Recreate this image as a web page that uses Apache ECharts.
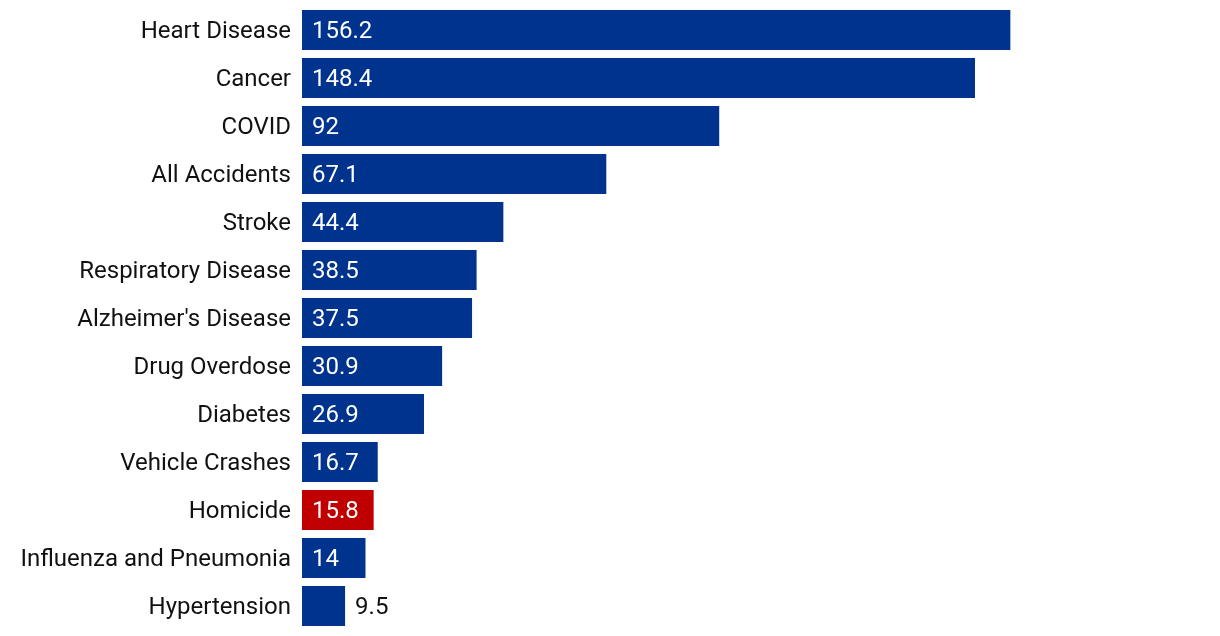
<!DOCTYPE html>
<html>
<head>
<meta charset="utf-8">
<script src="https://cdn.jsdelivr.net/npm/echarts@6/dist/echarts.min.js"></script>
<style>
  html, body { margin: 0; padding: 0; background: #fff; }
  #chart { width: 1220px; height: 636px; }
</style>
</head>
<body>
<div id="chart"></div>
<script>
// causes of death, rate per 100k
const causes = [
  'Heart Disease', 'Cancer', 'COVID', 'All Accidents', 'Stroke',
  'Respiratory Disease', "Alzheimer's Disease", 'Drug Overdose', 'Diabetes',
  'Vehicle Crashes', 'Homicide', 'Influenza and Pneumonia', 'Hypertension'
]
const rates = [156.2, 148.4, 92, 67.1, 44.4, 38.5, 37.5, 30.9, 26.9, 16.7, 15.8, 14, 9.5]
const highlight = 'Homicide'

const BLUE = '#00338d'
const RED = '#c00000'
const INK = '#111'

const chart = echarts.init(document.getElementById('chart'))

const data = rates.map((v, i) => {
  const item = { value: v, itemStyle: { color: causes[i] === highlight ? RED : BLUE } }
  // too narrow to fit the label inside
  if (v < 12) {
    item.label = { position: 'right', color: INK, distance: 10 }
  }
  return item
})

chart.setOption({
  animation: false,
  grid: { left: 302, right: 11, top: 6, bottom: 6 },
  xAxis: {
    type: 'value',
    min: 0,
    max: 200,
    show: false
  },
  yAxis: {
    type: 'category',
    inverse: true,
    data: causes,
    axisLine: { show: false },
    axisTick: { show: false },
    axisLabel: {
      margin: 11,
      formatter: v => '{a|' + v + '}',
      rich: {
        a: {
          color: INK,
          fontSize: 24,
          fontFamily: 'Roboto',
          padding: [4, 0, 0, 0]
        }
      }
    }
  },
  series: [{
    type: 'bar',
    data: data,
    barCategoryGap: '16.7%',
    label: {
      show: true,
      position: 'insideLeft',
      distance: 10,
      offset: [0, 2],
      color: '#fff',
      fontSize: 24,
      fontFamily: 'Roboto'
    }
  }]
})
</script>
</body>
</html>
